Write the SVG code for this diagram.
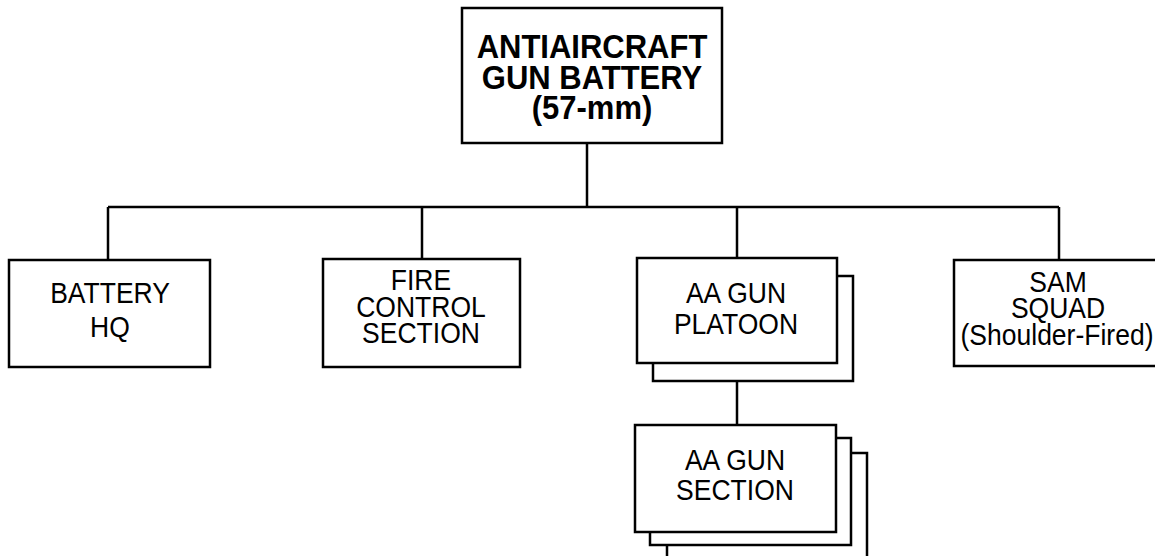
<svg xmlns="http://www.w3.org/2000/svg" width="1155" height="556" viewBox="0 0 1155 556">
<style>
.box{fill:#fff;stroke:#000;stroke-width:2.5}
.ln{fill:none;stroke:#000;stroke-width:2.5}
text{font-family:"Liberation Sans",Arial,sans-serif;font-size:26.5px;fill:#000;text-anchor:middle}
.b{font-weight:bold;font-size:31px}
</style>
<rect width="1155" height="556" fill="#fff"/>
<g id="connectors">
<path class="ln" d="M587 143V207M108 207H1059M108 207V260M422 207V259M737 207V258M1059 207V260M737 381V425"/>
</g>
<g id="top">
<rect class="box" x="462" y="8" width="260" height="135"/>
<text class="b" transform="translate(592 58) scale(1 1.08)">ANTIAIRCRAFT</text>
<text class="b" transform="translate(592 89) scale(1 1.08)">GUN BATTERY</text>
<text class="b" transform="translate(592 119) scale(1 1.08)">(57-mm)</text>
</g>
<g id="hq">
<rect class="box" x="9" y="260" width="201" height="107"/>
<text transform="translate(110 303) scale(1 1.08)">BATTERY</text>
<text transform="translate(110 337) scale(1 1.08)">HQ</text>
</g>
<g id="fire">
<rect class="box" x="323" y="259" width="197" height="108"/>
<text transform="translate(421 290) scale(1 1.08)">FIRE</text>
<text transform="translate(421 317) scale(1 1.08)">CONTROL</text>
<text transform="translate(421 343) scale(1 1.08)">SECTION</text>
</g>
<g id="platoon">
<rect class="box" x="653" y="276" width="200" height="105"/>
<rect class="box" x="637" y="258" width="200" height="105"/>
<text transform="translate(736 303) scale(1 1.08)">AA GUN</text>
<text transform="translate(736 334) scale(1 1.08)">PLATOON</text>
</g>
<g id="section">
<rect class="box" x="667" y="453" width="200" height="120"/>
<rect class="box" x="650" y="438" width="201" height="107"/>
<rect class="box" x="635" y="425" width="201" height="107"/>
<text transform="translate(735 470) scale(1 1.08)">AA GUN</text>
<text transform="translate(735 500) scale(1 1.08)">SECTION</text>
</g>
<g id="sam">
<rect class="box" x="954" y="260" width="210" height="106"/>
<text transform="translate(1058 292) scale(1 1.08)">SAM</text>
<text transform="translate(1058 318) scale(1 1.08)">SQUAD</text>
<text transform="translate(1057 345) scale(1 1.08)">(Shoulder-Fired)</text>
</g>
</svg>
